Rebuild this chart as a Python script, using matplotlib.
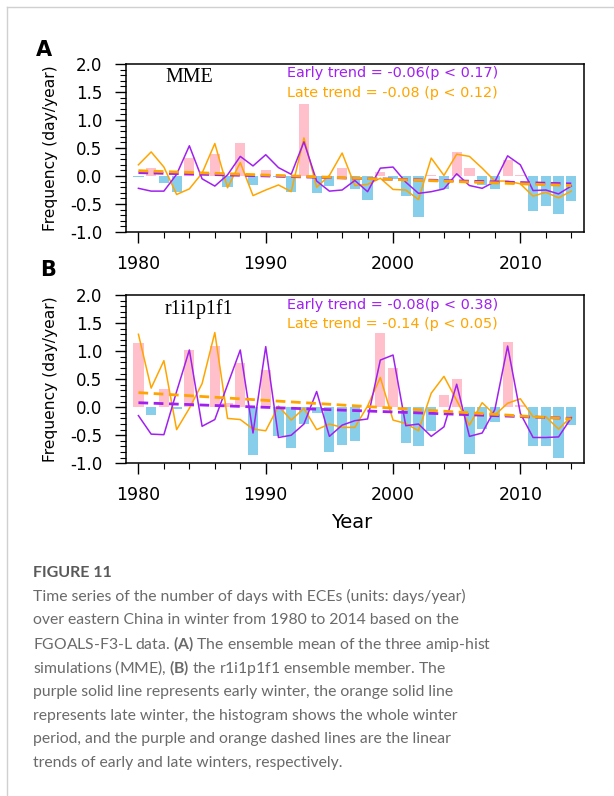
"""Days with ECEs over eastern China, FGOALS-F3-L: MME and r1i1p1f1 (two panels + caption)."""

import matplotlib
matplotlib.use("Agg")
import matplotlib.pyplot as plt
import numpy as np
from matplotlib.lines import Line2D

years = np.arange(1980, 2015)

# panel A -- ensemble mean (MME)
mme_whole = [-0.02, 0.15, -0.12, -0.29, 0.32, 0.00, 0.39, -0.19, 0.59, -0.16,
             0.11, -0.01, -0.28, 1.28, -0.30, -0.18, 0.15, -0.24, -0.43, 0.07,
             -0.05, -0.36, -0.74, 0.02, -0.23, 0.42, 0.15, -0.16, -0.24, 0.29,
             0.02, -0.62, -0.53, -0.68, -0.44]
mme_early = [-0.22, -0.27, -0.27, 0.03, 0.54, -0.05, -0.18, 0.02, 0.35, 0.18,
             0.38, 0.15, 0.03, 0.61, -0.09, -0.27, -0.25, -0.08, -0.28, 0.14,
             0.16, -0.11, -0.31, -0.28, -0.23, 0.04, -0.17, -0.22, -0.10, 0.36,
             0.20, -0.26, -0.25, -0.32, -0.18]
mme_late = [0.20, 0.43, 0.16, -0.33, -0.23, 0.05, 0.58, -0.21, 0.24, -0.35,
            -0.25, -0.16, -0.28, 0.68, -0.20, 0.01, 0.41, -0.17, -0.15, -0.04,
            -0.24, -0.25, -0.42, 0.32, 0.01, 0.39, 0.35, 0.14, -0.09, -0.09,
            -0.14, -0.36, -0.29, -0.39, -0.27]
mme_trend_early = [0.06, -0.14]   # value at 1980, 2014
mme_trend_late = [0.095, -0.17]

# panel B -- r1i1p1f1 member
r1_whole = [1.15, -0.14, 0.33, -0.03, 1.02, 0.00, 1.09, 0.08, 0.79, -0.85,
            0.66, -0.51, -0.73, -0.30, -0.10, -0.80, -0.67, -0.60, 0.00, 1.33,
            0.69, -0.63, -0.70, -0.42, 0.22, 0.51, -0.84, -0.38, -0.26, 1.16,
            0.04, -0.69, -0.69, -0.91, -0.32]
r1_early = [-0.15, -0.48, -0.49, 0.28, 1.02, -0.34, -0.22, 0.40, 1.02, -0.46,
            1.08, -0.54, -0.50, -0.30, 0.28, -0.52, -0.32, -0.24, -0.21, 0.84,
            0.93, -0.33, -0.30, -0.52, -0.35, 0.41, -0.52, -0.46, -0.04, 1.09,
            -0.11, -0.54, -0.54, -0.53, -0.19]
r1_late = [1.30, 0.34, 0.83, -0.40, -0.02, 0.42, 1.33, -0.20, -0.22, -0.39,
           -0.42, 0.02, -0.23, -0.02, -0.40, -0.30, -0.36, -0.36, 0.02, 0.53,
           -0.23, -0.29, -0.42, 0.25, 0.55, 0.12, -0.32, 0.08, -0.14, 0.07,
           0.15, -0.17, -0.17, -0.39, -0.17]
r1_trend_early = [0.08, -0.20]
r1_trend_late = [0.26, -0.21]

panels = [
    ("A", "MME", mme_whole, mme_early, mme_late, mme_trend_early, mme_trend_late,
     "Early trend = -0.06(p < 0.17)", "Late trend = -0.08 (p < 0.12)"),
    ("B", "r1i1p1f1", r1_whole, r1_early, r1_late, r1_trend_early, r1_trend_late,
     "Early trend = -0.08(p < 0.38)", "Late trend = -0.14 (p < 0.05)"),
]

caption_lines = [
    "Time series of the number of days with ECEs (units: days/year)",
    "over eastern China in winter from 1980 to 2014 based on the",
    r"FGOALS-F3-L data. $\mathbf{(A)}$ The ensemble mean of the three amip-hist",
    r"simulations (MME), $\mathbf{(B)}$ the r1i1p1f1 ensemble member. The",
    "purple solid line represents early winter, the orange solid line",
    "represents late winter, the histogram shows the whole winter",
    "period, and the purple and orange dashed lines are the linear",
    "trends of early and late winters, respectively.",
]

PURPLE = "#A020F0"
ORANGE = "#FFA500"
PINK = "#FFC0CB"
SKY = "#87CEEB"

plt.rcParams["font.family"] = "DejaVu Sans"
plt.rcParams["mathtext.fontset"] = "custom"
plt.rcParams["mathtext.rm"] = "Lato"
plt.rcParams["mathtext.bf"] = "Lato:bold"

W, H = 614, 796
fig = plt.figure(figsize=(W / 100, H / 100), dpi=100)

# axes boxes in pixels: left, top, right, bottom
boxes = [(125.7, 64, 584, 232), (125.7, 295, 584, 463.3)]
label_pos = [(44, 50), (48, 270)]

for (letter, name, whole, early, late, te, tl, txt_e, txt_l), box, lp in zip(panels, boxes, label_pos):
    l, t, r, b = box
    ax = fig.add_axes([l / W, 1 - b / H, (r - l) / W, (b - t) / H])
    whole = np.array(whole)
    ax.bar(years, whole, width=0.8, color=np.where(whole >= 0, PINK, SKY), zorder=1)
    ax.plot(years, late, color=ORANGE, lw=1.1, zorder=2)
    ax.plot(years, early, color=PURPLE, lw=1.1, zorder=3)
    ax.plot([1980, 2014], te, color=PURPLE, lw=2.0, dashes=(3.5, 2.0), zorder=4)
    ax.plot([1980, 2014], tl, color=ORANGE, lw=2.0, dashes=(3.5, 2.0), zorder=5)

    ax.set_xlim(1979, 2015)
    ax.set_ylim(-1.0, 2.0)
    ax.set_xticks([1980, 1990, 2000, 2010])
    ax.set_xticks(np.arange(1980, 2015, 2), minor=True)
    ax.set_yticks(np.arange(-1.0, 2.01, 0.5))
    ax.set_yticks(np.arange(-1.0, 2.01, 0.1), minor=True)
    ax.set_yticklabels([f"{v:.1f}" for v in np.arange(-1.0, 2.01, 0.5)])
    ax.tick_params(axis="both", which="major", direction="out", length=7.7, width=1.0,
                   top=False, right=False)
    ax.tick_params(axis="both", which="minor", direction="out", length=4, width=0.8,
                   top=False, right=False)
    ax.tick_params(axis="x", which="major", labelsize=12.5, pad=9)
    ax.tick_params(axis="y", which="major", labelsize=12, pad=9)
    for s in ax.spines.values():
        s.set_linewidth(1.1)
    ax.set_ylabel("Frequency (day/year)", fontsize=11.2, labelpad=9)

    ax.text(0.086, 1 - 14 / (b - t), name, transform=ax.transAxes, family="Liberation Serif",
            fontsize=14.4, va="center", ha="left")
    ax.text(0.351, 1 - 9.5 / (b - t), txt_e, transform=ax.transAxes, color=PURPLE,
            fontsize=10.4, va="center", ha="left")
    ax.text(0.351, 1 - 29 / (b - t), txt_l, transform=ax.transAxes, color=ORANGE,
            fontsize=10.4, va="center", ha="left")
    fig.text(lp[0] / W, 1 - lp[1] / H, letter, fontsize=15, fontweight="bold",
             ha="center", va="center")

fig.text(352 / W, 1 - 522 / H, "Year", fontsize=14, ha="center", va="center")

# caption
fig.text(33 / W, 1 - 573 / H, "FIGURE 11", fontsize=11.5, family="Lato", fontweight="bold",
         color="#595959", ha="left", va="center")
for i, line in enumerate(caption_lines):
    y = 596.7 + i * 23.8
    fig.text(33 / W, 1 - y / H, line, fontsize=11.3, family="Lato", fontweight="normal",
             color="#6a6a6a", ha="left", va="center")

# page frame
fig.add_artist(Line2D([7 / W, 7 / W], [0, 1 - 7 / H], color="#d0d0d0", lw=1))
fig.add_artist(Line2D([7 / W, 1], [1 - 7 / H, 1 - 7 / H], color="#d0d0d0", lw=1))

fig.savefig("out.png", dpi=100)
